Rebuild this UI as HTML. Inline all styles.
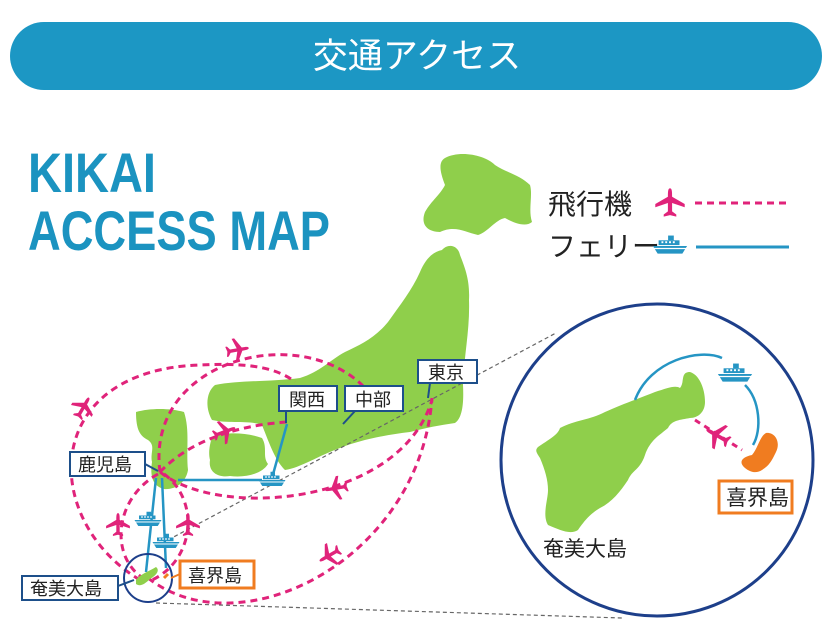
<!DOCTYPE html>
<html><head><meta charset="utf-8">
<style>
html,body{margin:0;padding:0;background:#fff;}
svg{display:block;}
text{font-family:"Liberation Sans","Noto Sans CJK JP",sans-serif;}
</style></head>
<body>
<svg width="834" height="638" viewBox="0 0 834 638" xmlns="http://www.w3.org/2000/svg">
<defs>
<g id="ship">
  <path d="M-18,0 L18,0 L13,8 L-13,8 Z" fill="#2595c4"/>
  <rect x="-12" y="-6" width="22" height="5" fill="#2595c4"/>
  <rect x="-2" y="-11" width="6" height="5" fill="#2595c4"/>
  <rect x="-9" y="-5" width="2" height="2" fill="#fff"/><rect x="-5" y="-5" width="2" height="2" fill="#fff"/><rect x="-1" y="-5" width="2" height="2" fill="#fff"/><rect x="3" y="-5" width="2" height="2" fill="#fff"/>
  <rect x="-18" y="2" width="36" height="1.3" fill="#fff"/>
</g>
<g id="plane">
  <path d="M0,-14 C2,-14 2,-10 2,-6 L14,1 L14,4 L2,0 L2,8 L6,11 L6,13 L0,11.5 L-6,13 L-6,11 L-2,8 L-2,0 L-14,4 L-14,1 L-2,-6 C-2,-10 -2,-14 0,-14 Z" fill="#e0237a"/>
</g>
</defs>

<!-- header -->
<rect x="10" y="22" width="812" height="68" rx="34" fill="#1c97c4"/>
<text x="417" y="68" font-size="35" fill="#fff" text-anchor="middle">交通アクセス</text>

<!-- title -->
<text x="28" y="192" font-size="56" font-weight="bold" fill="#1b93c0" textLength="128" lengthAdjust="spacingAndGlyphs">KIKAI</text>
<text x="28" y="250" font-size="56" font-weight="bold" fill="#1b93c0" textLength="302" lengthAdjust="spacingAndGlyphs">ACCESS MAP</text>

<!-- legend -->
<text x="548" y="214" font-size="28" fill="#222">飛行機</text>
<use href="#plane" transform="translate(670,203) scale(1.05)"/>
<line x1="695" y1="203" x2="788" y2="203" stroke="#e0237a" stroke-width="3" stroke-dasharray="7,5"/>
<text x="548" y="256" font-size="28" fill="#222">フェリー</text>
<use href="#ship" transform="translate(670,246) scale(0.95)"/>
<line x1="696" y1="247" x2="789" y2="247" stroke="#2595c4" stroke-width="3"/>

<!-- Japan -->
<g fill="#8fcf4b">
<path d="M445,158 C460,150 485,155 495,165 C505,172 520,175 530,185 C533,195 528,210 532,222 C525,228 512,222 505,218 C495,220 488,232 478,235 C465,232 455,225 440,232 C428,232 420,225 425,212 C432,200 440,195 445,185 C440,172 438,162 445,158 Z"/>
<path d="M442,250 C448,243 458,245 460,255 C465,268 470,280 469,300 C470,330 464,355 463,385 C464,405 462,418 455,423 C440,425 425,428 410,432 C385,435 360,440 340,448 C320,455 300,468 285,470 C275,460 270,445 262,425 C250,420 230,424 212,420 C205,408 206,392 215,385 C240,380 270,382 300,378 C320,372 330,360 345,352 C360,345 375,338 388,322 C400,305 412,290 420,272 C425,260 432,252 442,250 Z"/>
<path d="M212,437 C225,432 245,432 262,438 C268,448 262,456 268,464 C262,474 245,478 230,476 C218,478 208,472 210,460 C208,452 210,444 212,437 Z"/>
<path d="M136,412 C150,408 170,408 184,412 C190,430 186,450 188,470 C186,482 176,490 164,489 C152,486 150,475 152,462 C150,452 156,446 148,440 C140,436 136,430 136,412 Z"/>
</g>

<!-- gray leader lines -->
<g stroke="#666" stroke-width="1.2" stroke-dasharray="4,3" fill="none">
<path d="M168,540 L556,333"/>
<path d="M156,603 L622,618"/>
</g>

<!-- flight routes -->
<g fill="none" stroke="#e0237a" stroke-width="3" stroke-dasharray="7,5">
<path d="M160,472 C190,440 240,425 287,422"/>
<path d="M160,472 C220,520 400,505 432,400"/>
<path d="M148,578 C240,650 420,560 432,398"/>
<path d="M140,580 C40,520 40,370 200,365 C255,362 280,370 295,382"/>
<path d="M160,472 C145,360 300,320 365,388"/>
<path d="M158,474 C112,500 110,560 146,580"/>
<path d="M164,474 C200,500 195,560 152,580"/>
</g>
<use href="#plane" transform="translate(237,350) rotate(80) scale(0.85)"/>
<use href="#plane" transform="translate(83,408) rotate(30) scale(0.85)"/>
<use href="#plane" transform="translate(224,432) rotate(70) scale(0.85)"/>
<use href="#plane" transform="translate(337,488) rotate(-100) scale(0.85)"/>
<use href="#plane" transform="translate(330,555) rotate(-120) scale(0.85)"/>
<use href="#plane" transform="translate(118,525) scale(0.85)"/>
<use href="#plane" transform="translate(188,525) scale(0.85)"/>

<!-- ferry routes -->
<g stroke="#2595c4" stroke-width="2.5" fill="none">
<path d="M156,478 L146,572"/>
<path d="M162,478 L166,568"/>
<path d="M178,480 L262,480"/>
<path d="M272,478 L287,424"/>
</g>
<use href="#ship" transform="translate(148,520) scale(0.75)"/>
<use href="#ship" transform="translate(166,542) scale(0.75)"/>
<use href="#ship" transform="translate(272,480) scale(0.75)"/>

<!-- small circle -->
<circle cx="148" cy="578" r="24" fill="none" stroke="#1d3f8a" stroke-width="2"/>
<path d="M136,580 C140,574 148,572 156,567 C160,570 157,575 150,579 C145,584 140,587 136,584 Z" fill="#8fcf4b"/>
<path d="M164,578 L168,574" stroke="#f07c20" stroke-width="3"/>

<!-- labels -->
<g font-size="18" fill="#222">
<rect x="70" y="452" width="75" height="24" fill="#fff" stroke="#1d4f8a" stroke-width="2"/>
<path d="M145,464 L158,471" stroke="#1d4f8a" stroke-width="2"/>
<text x="78" y="471">鹿児島</text>
<rect x="279" y="386" width="58" height="25" fill="#fff" stroke="#1d4f8a" stroke-width="2"/>
<path d="M286,411 L286,423" stroke="#1d4f8a" stroke-width="2"/>
<text x="289" y="406">関西</text>
<rect x="345" y="386" width="58" height="25" fill="#fff" stroke="#1d4f8a" stroke-width="2"/>
<path d="M355,411 L343,424" stroke="#1d4f8a" stroke-width="2"/>
<text x="355" y="406">中部</text>
<rect x="418" y="360" width="59" height="23" fill="#fff" stroke="#1d4f8a" stroke-width="2"/>
<path d="M430,383 L428,398" stroke="#1d4f8a" stroke-width="2"/>
<text x="428" y="379">東京</text>
<rect x="22" y="576" width="96" height="24" fill="#fff" stroke="#1d4f8a" stroke-width="2"/>
<path d="M118,586 L134,580" stroke="#1d4f8a" stroke-width="2"/>
<text x="30" y="595">奄美大島</text>
<rect x="180" y="561" width="74" height="27" fill="#fff" stroke="#f07c20" stroke-width="3"/>
<path d="M180,574 L171,578" stroke="#f07c20" stroke-width="2"/>
<text x="188" y="582">喜界島</text>
</g>

<!-- big circle -->
<circle cx="657" cy="460" r="156" fill="#fff" stroke="#1d3f8a" stroke-width="3"/>
<path d="M538,447 C548,440 558,435 560,428 C575,420 590,420 605,412 C620,405 640,398 655,392 C668,388 675,385 680,388 C685,382 680,372 690,372 C700,375 705,390 705,402 C705,412 698,418 690,418 C680,420 672,420 668,428 C660,435 650,440 645,455 C640,470 632,470 628,480 C620,492 612,502 600,508 C590,514 585,520 578,530 C570,535 560,530 548,525 C542,515 548,500 548,490 C548,480 545,470 540,458 C536,452 535,450 538,447 Z" fill="#8fcf4b"/>
<path d="M766,433 C775,432 781,442 776,452 C772,460 770,465 762,470 C756,474 750,472 745,468 C738,462 742,457 752,455 C758,448 760,436 766,433 Z" fill="#f07c20"/>
<path d="M635,400 C650,360 700,348 722,358" fill="none" stroke="#2595c4" stroke-width="2.5"/>
<path d="M745,385 C760,400 762,430 753,445" fill="none" stroke="#2595c4" stroke-width="2.5"/>
<use href="#ship" transform="translate(735,374) scale(0.95)"/>
<path d="M695,420 L742,450" stroke="#e0237a" stroke-width="3" stroke-dasharray="6,5"/>
<use href="#plane" transform="translate(718,436) rotate(-60) scale(0.95)"/>
<rect x="719" y="481" width="73" height="32" fill="#fff" stroke="#f07c20" stroke-width="3"/>
<text x="726" y="505" font-size="21" fill="#222">喜界島</text>
<text x="543" y="556" font-size="21" fill="#222">奄美大島</text>
</svg>
</body></html>
